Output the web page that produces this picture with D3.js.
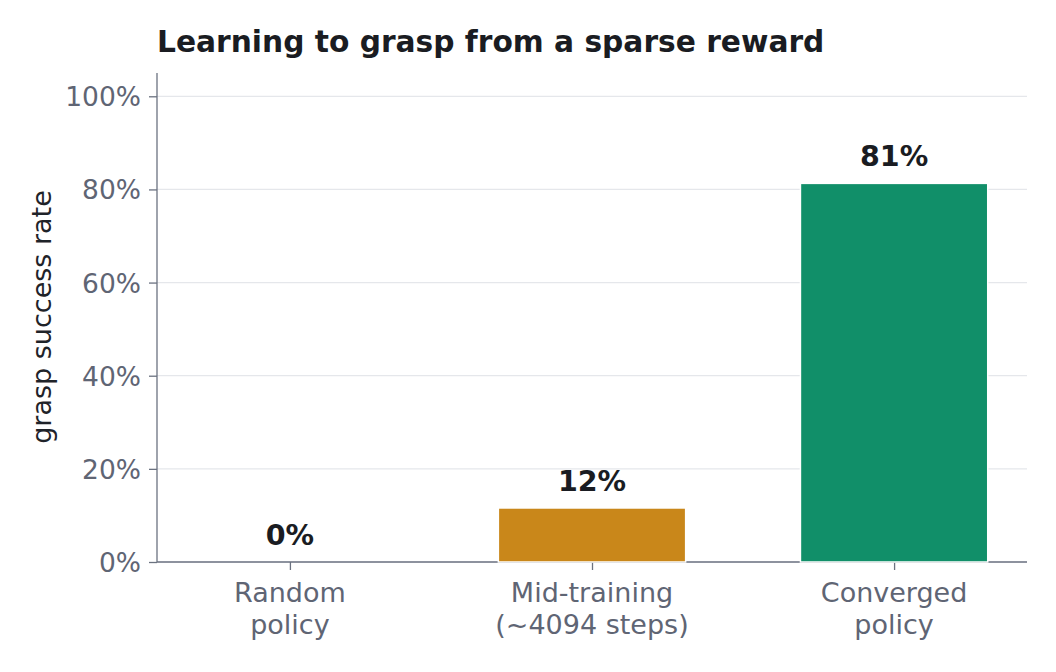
<!DOCTYPE html>
<html><head><meta charset="utf-8">
<script src="https://cdn.jsdelivr.net/npm/d3@7"></script>
<style>body{margin:0;background:#fff}svg{display:block}text{font-family:"DejaVu Sans",sans-serif}</style>
</head><body><svg id="c" width="1056" height="672"></svg>
<script>
const categories = ["Random\npolicy", "Mid-training\n(~4094 steps)", "Converged\npolicy"];
const values = [0, 11.6, 81.3];
const labels = ["0%", "12%", "81%"];
const colors = ["#9ca3af", "#c9871a", "#118f69"];
const yTicks = [0, 20, 40, 60, 80, 100];

const svg = d3.select("#c");
const L = 157, R = 1027, T = 73, B = 562;
const x = d3.scaleLinear().domain([-0.44, 2.44]).range([L, R]);
const y = d3.scaleLinear().domain([0, 105]).range([B, T]);
const bw = 0.62;

// grid
svg.append("g").selectAll("line").data(yTicks).join("line")
  .attr("x1", L).attr("x2", R).attr("y1", d => y(d)).attr("y2", d => y(d))
  .attr("stroke", "#e5e7eb").attr("stroke-width", 1.2);

// y axis
const ya = svg.append("g").attr("transform", `translate(${L},0)`)
  .call(d3.axisLeft(y).tickValues(yTicks).tickFormat(d => d + "%").tickSize(8).tickPadding(8));
ya.select(".domain").remove();
ya.selectAll(".tick line").attr("stroke", "#6b7280").attr("stroke-width", 1.3);
ya.selectAll(".tick text").attr("fill", "#5f6574").attr("font-size", 26.5)
  .attr("font-family", "DejaVu Sans").attr("dy", "0.36em");
svg.append("line").attr("x1", L).attr("x2", L).attr("y1", T).attr("y2", B)
  .attr("stroke", "#6b7280").attr("stroke-width", 1.3);

// x axis
const xa = svg.append("g").attr("transform", `translate(0,${B})`)
  .call(d3.axisBottom(x).tickValues([0, 1, 2]).tickFormat("").tickSize(8));
xa.select(".domain").remove();
xa.selectAll(".tick line").attr("stroke", "#6b7280").attr("stroke-width", 1.3);
svg.append("line").attr("x1", L).attr("x2", R).attr("y1", B).attr("y2", B)
  .attr("stroke", "#6b7280").attr("stroke-width", 1.3);

// x tick labels
categories.forEach((c, i) => {
  const t = svg.append("text").attr("x", x(i)).attr("y", 602).attr("text-anchor", "middle")
    .attr("fill", "#5f6574").attr("font-size", 27);
  c.split("\n").forEach((ln, j) => t.append("tspan").attr("x", x(i)).attr("dy", j ? 32 : 0).text(ln));
});

// bars
svg.append("g").selectAll("rect").data(values).join("rect")
  .attr("x", (d, i) => x(i - bw / 2)).attr("width", (d, i) => x(i + bw / 2) - x(i - bw / 2))
  .attr("y", d => y(d)).attr("height", d => y(0) - y(d))
  .attr("fill", (d, i) => colors[i]).attr("stroke", "#fff").attr("stroke-width", 1.5);

// value labels
svg.append("g").selectAll("text").data(values).join("text")
  .attr("x", (d, i) => x(i)).attr("y", d => y(d) - 17).attr("text-anchor", "middle")
  .attr("font-size", 28.5).attr("font-weight", "bold").attr("fill", "#1a1c22")
  .text((d, i) => labels[i]);

// y label
svg.append("text").attr("transform", `translate(51,317) rotate(-90)`)
  .attr("text-anchor", "middle").attr("font-size", 27).attr("fill", "#1f2329")
  .text("grasp success rate");

// title
svg.append("text").attr("x", L).attr("y", 52).attr("font-size", 29.7).attr("font-weight", "bold")
  .attr("fill", "#1a1c22").text("Learning to grasp from a sparse reward");
</script></body></html>
